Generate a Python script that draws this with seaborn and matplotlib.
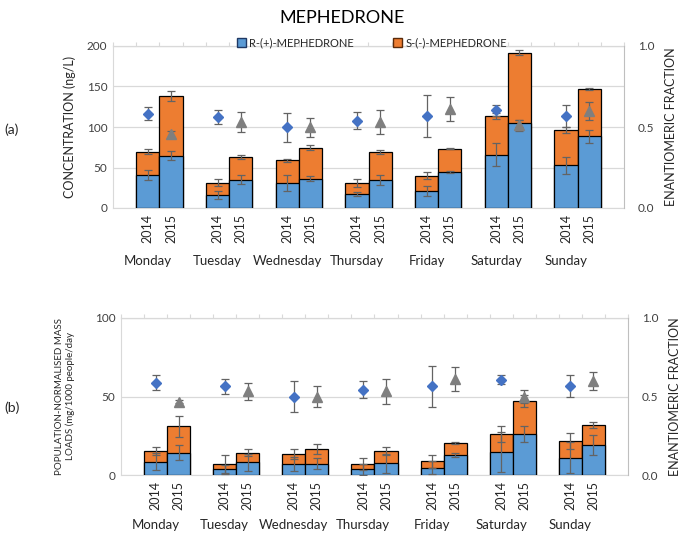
import numpy as np
import pandas as pd
import seaborn as sns
import matplotlib.pyplot as plt
from matplotlib.patches import Patch

sns.set_style("white")
plt.rcParams["font.family"] = ["Lato", "DejaVu Sans"]

# data
days = ["Monday", "Tuesday", "Wednesday", "Thursday", "Friday", "Saturday", "Sunday"]
years = ["2014", "2015"]

# (a) concentration, ng/L
conc_r_2014 = [40.4, 16.5, 31.0, 17.3, 21.4, 66.0, 52.8]
conc_r_2015 = [64.7, 35.0, 36.0, 35.0, 44.5, 104.7, 88.7]
conc_tot_2014 = [69.3, 31.3, 59.0, 31.0, 40.0, 113.4, 96.5]
conc_tot_2015 = [138.0, 63.0, 74.6, 69.3, 73.4, 191.8, 147.0]
conc_r_err_2014 = [6, 5, 10, 2, 6, 14.5, 10.7]
conc_r_err_2015 = [6, 5.5, 3, 6, 1, 4.5, 8]
conc_tot_err_2014 = [3, 4, 2, 5, 4.5, 4, 3.7]
conc_tot_err_2015 = [6.5, 2, 3, 2.5, 0.5, 3, 1]
ef_conc_2014 = [0.583, 0.563, 0.497, 0.54, 0.567, 0.602, 0.567]
ef_conc_err_2014 = [0.04, 0.045, 0.09, 0.05, 0.13, 0.035, 0.07]
ef_conc_2015 = [0.455, 0.53, 0.497, 0.53, 0.612, 0.51, 0.598]
ef_conc_err_2015 = [0.02, 0.06, 0.06, 0.075, 0.075, 0.035, 0.057]

# (b) population-normalised mass loads, mg/1000 people/day
load_r_2014 = [8.5, 3.6, 7.0, 3.6, 4.7, 14.7, 11.0]
load_r_2015 = [14.3, 8.0, 7.2, 7.4, 12.8, 26.0, 19.0]
load_tot_2014 = [15.5, 7.0, 13.4, 7.0, 8.7, 26.2, 21.5]
load_tot_2015 = [30.9, 14.3, 16.6, 15.5, 20.2, 47.4, 32.0]
load_r_err_2014 = [5.5, 3, 4.5, 3.5, 4, 13, 10]
load_r_err_2015 = [5, 5.5, 3.5, 6, 1.5, 5, 6.4]
load_tot_err_2014 = [2.5, 5.5, 3, 4, 4, 5, 5]
load_tot_err_2015 = [6.8, 2.5, 3, 2.5, 0.7, 3.8, 2]
ef_load_2014 = [0.589, 0.564, 0.5, 0.543, 0.564, 0.606, 0.568]
ef_load_err_2014 = [0.045, 0.045, 0.1, 0.055, 0.13, 0.028, 0.07]
ef_load_2015 = [0.468, 0.532, 0.5, 0.532, 0.61, 0.5, 0.6]
ef_load_err_2015 = [0.01, 0.055, 0.065, 0.08, 0.075, 0.04, 0.058]

BLUE = "#5B9BD5"
ORANGE = "#ED7D31"
DIAMOND = "#4472C4"
TRI = "#7F7F7F"
ERR = "#636363"
GRID = "#D9D9D9"


def make_df(r14, r15, t14, t15, re14, re15, te14, te15, ef14, ef15, efe14, efe15):
    rows = []
    for i, d in enumerate(days):
        for j, yr in enumerate(years):
            rows.append({
                "day": d, "year": yr, "pos": 3 * i + 1 + j,
                "r": [r14, r15][j][i], "total": [t14, t15][j][i],
                "r_err": [re14, re15][j][i], "tot_err": [te14, te15][j][i],
                "ef": [ef14, ef15][j][i], "ef_err": [efe14, efe15][j][i],
            })
    return pd.DataFrame(rows)


conc = make_df(conc_r_2014, conc_r_2015, conc_tot_2014, conc_tot_2015,
               conc_r_err_2014, conc_r_err_2015, conc_tot_err_2014, conc_tot_err_2015,
               ef_conc_2014, ef_conc_2015, ef_conc_err_2014, ef_conc_err_2015)
load = make_df(load_r_2014, load_r_2015, load_tot_2014, load_tot_2015,
               load_r_err_2014, load_r_err_2015, load_tot_err_2014, load_tot_err_2015,
               ef_load_2014, ef_load_2015, ef_load_err_2014, ef_load_err_2015)

fig = plt.figure(figsize=(6.85, 5.38), dpi=100)
ax_a = fig.add_axes([113 / 685, 1 - 208 / 538, 511 / 685, 162 / 538])
ax_b = fig.add_axes([121 / 685, 1 - 475 / 538, 507 / 685, 157 / 538])


def panel(ax, df, ymax, yticks, ylabel, ylab_size, ylab_pad, day_offset):
    # orange = total height, blue drawn over it from zero
    sns.barplot(data=df, x="pos", y="total", native_scale=True, width=1,
                color=ORANGE, saturation=1, edgecolor="black", linewidth=0.9,
                errorbar=None, ax=ax, zorder=2)
    sns.barplot(data=df, x="pos", y="r", native_scale=True, width=1,
                color=BLUE, saturation=1, edgecolor="black", linewidth=0.9,
                errorbar=None, ax=ax, zorder=3)
    ax.errorbar(df["pos"], df["r"], yerr=df["r_err"], fmt="none", ecolor=ERR,
                elinewidth=0.9, capsize=3, capthick=0.9, zorder=4)
    ax.errorbar(df["pos"], df["total"], yerr=df["tot_err"], fmt="none", ecolor=ERR,
                elinewidth=0.9, capsize=3, capthick=0.9, zorder=4)

    ax.set_xlim(-0.5, 21.5)
    ax.set_ylim(0, ymax)
    ax.set_yticks(yticks)
    ax.set_yticklabels([str(v) for v in yticks], fontsize=8.5, color="#404040")
    ax.set_xticks(df["pos"])
    ax.set_xticklabels(df["year"], rotation=90, fontsize=9, color="#262626")
    ax.tick_params(axis="both", length=0, pad=4)
    ax.set_xlabel("")
    ax.set_ylabel(ylabel, fontsize=ylab_size, color="#262626", labelpad=ylab_pad)
    ax.grid(axis="y", color=GRID, linewidth=0.9)
    ax.set_axisbelow(True)
    for s in ["left", "bottom", "top"]:
        ax.spines[s].set_color(GRID)
    ax.spines["right"].set_visible(False)

    top = ax.secondary_xaxis("top")
    top.set_xticks(np.arange(-0.5, 22, 1))
    top.set_xticklabels([])
    top.tick_params(length=3, color=GRID)
    top.spines["top"].set_color(GRID)

    for i, d in enumerate(days):
        ax.annotate(d, xy=(3 * i + 1, 0), xycoords=("data", "axes fraction"),
                    xytext=(0, -day_offset), textcoords="offset pixels",
                    ha="center", va="center", fontsize=9.5, color="#262626")

    ax2 = ax.twinx()
    ef14 = df[df["year"] == "2014"]
    ef15 = df[df["year"] == "2015"]
    ax2.errorbar(ef14["pos"], ef14["ef"], yerr=ef14["ef_err"], fmt="D", color=DIAMOND,
                 markersize=5, ecolor=ERR, elinewidth=0.9, capsize=3, capthick=0.9)
    ax2.errorbar(ef15["pos"], ef15["ef"], yerr=ef15["ef_err"], fmt="^", color=TRI,
                 markersize=6.5, ecolor=ERR, elinewidth=0.9, capsize=3, capthick=0.9)
    ax2.set_ylim(0, 1)
    ax2.set_yticks([0, 0.5, 1.0])
    ax2.set_yticklabels(["0.0", "0.5", "1.0"], fontsize=8.5, color="#404040")
    ax2.tick_params(axis="y", length=0, pad=10)
    ax2.set_ylabel("ENANTIOMERIC FRACTION", fontsize=9, color="#262626", labelpad=8)
    for s in ["left", "bottom", "top"]:
        ax2.spines[s].set_visible(False)
    ax2.spines["right"].set_color("#BFBFBF")
    return ax2


panel(ax_a, conc, 200, [0, 50, 100, 150, 200], "CONCENTRATION (ng/L)", 9, 8, 53)
panel(ax_b, load, 100, [0, 50, 100],
      "POPULATION-NORMALISED MASS\nLOADS (mg/1000 people/day", 7, 14, 50)

fig.text(342 / 685, 1 - 18 / 538, "MEPHEDRONE", ha="center", va="center",
         fontsize=13, color="black")
fig.text(4 / 685, 1 - 130 / 538, "(a)", ha="left", va="center", fontsize=10)
fig.text(4 / 685, 1 - 408 / 538, "(b)", ha="left", va="center", fontsize=10)

handles = [Patch(facecolor=BLUE, edgecolor="#1F3864", label="R-(+)-MEPHEDRONE"),
           Patch(facecolor=ORANGE, edgecolor="#5A2A0A", label="S-(-)-MEPHEDRONE")]
fig.legend(handles=handles, loc="center", bbox_to_anchor=(372 / 685, 1 - 43 / 538),
           ncol=2, frameon=False, fontsize=8, handlelength=0.8, handleheight=0.8,
           handletextpad=0.3, columnspacing=3.5)

fig.savefig("out.png", dpi=100)
